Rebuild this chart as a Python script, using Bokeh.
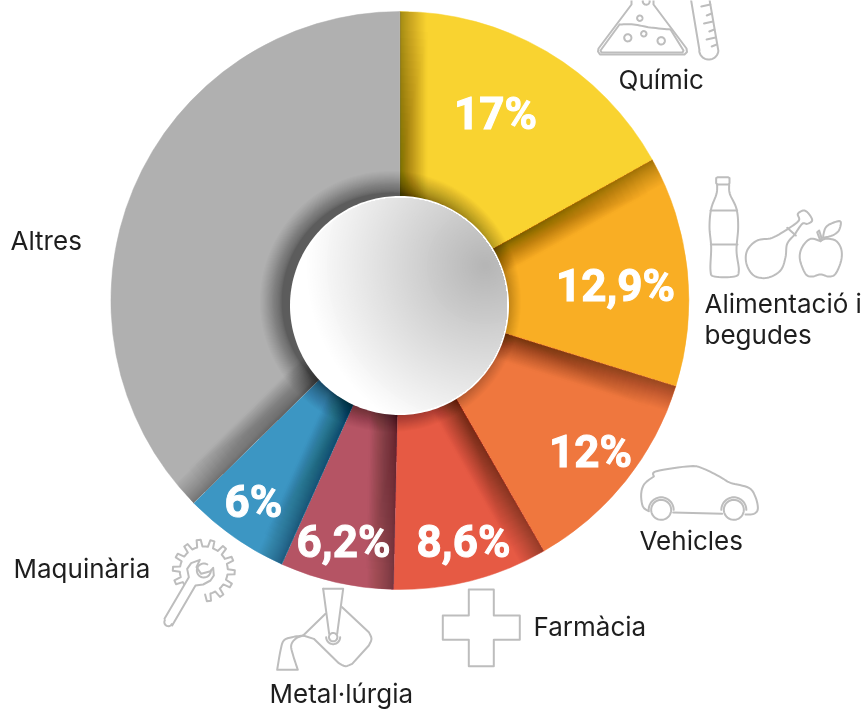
import numpy as np
from bokeh.plotting import figure
from bokeh.models import Range1d
from bokeh.core.properties import value
from bokeh.embed import file_html
from bokeh.resources import INLINE

# ---- data (clockwise from 12 o'clock); shares
sectors = ["Químic", "Alimentació i begudes", "Vehicles", "Farmàcia", "Metal·lúrgia", "Maquinària", "Altres"]
shares = [16.9, 12.9, 11.9, 8.65, 6.35, 5.95, 37.35]
pct_labels = ["17%", "12,9%", "12%", "8,6%", "6,2%", "6%", ""]
colors = ["#F9D330", "#F9AE24", "#EF773E", "#E65A44", "#B55464", "#3C96C3", "#B0B0B0"]

W, H = 863, 709
CX, CY, R = 399.4, 300, 289
HX, HY, HR = 399, 305, 107.5
ICON = "#BDBDBD"
TXT = "#1E1E1E"
FONT = "Inter"


def Y(y):
    return H - np.asarray(y, dtype=float)


p = figure(width=W, height=H, x_range=Range1d(0, W), y_range=Range1d(0, H),
           output_backend="svg", toolbar_location=None, min_border=0)
p.axis.visible = False
p.grid.visible = False
p.outline_line_color = None
p.background_fill_color = "#FFFFFF"
p.styles = {"position": "fixed", "left": "0px", "top": "0px"}

# ---- slices
cum = np.concatenate([[0], np.cumsum(shares)]) / 100 * 2 * np.pi
starts = np.pi / 2 - cum[:-1]
ends = np.pi / 2 - cum[1:]
p.wedge(x=CX, y=Y(CY), radius=R, start_angle=starts, end_angle=ends, direction="clock",
        fill_color=colors, line_color=colors, line_width=0.5)


# ---- soft shadows cast on each slice's clockwise-start edge
def strip(a_cw, d, rmax, rmin=95):
    """Region within perpendicular distance d of the radial edge at clockwise angle a_cw."""
    u = np.array([np.sin(a_cw), -np.cos(a_cw)])     # outward, screen coords
    n = np.array([np.cos(a_cw), np.sin(a_cw)])      # clockwise normal
    phi = np.arcsin(d / rmax)
    arc = np.linspace(0, phi, 24)
    pts = [np.array([CX, CY]) + rmin * u]
    for t in arc:
        a = a_cw + t
        pts.append(np.array([CX + rmax * np.sin(a), CY - rmax * np.cos(a)]))
    pts.append(np.array([CX, CY]) + rmin * u + d * n)
    pts = np.array(pts)
    return pts[:, 0].tolist(), Y(pts[:, 1]).tolist()


sx, sy, sa = [], [], []
for i, a in enumerate(cum[:-1]):
    for k in range(1, 31):
        x, y = strip(a, 0.5 + 26 * (k / 30) ** 1.3, R)
        sx.append(x); sy.append(y); sa.append(0.012)
    for k in range(1, 21):
        x, y = strip(a, 0.5 + 28 * (k / 20) ** 1.3, 120 + 150 * k / 20)
        sx.append(x); sy.append(y); sa.append(0.009)
# shadow of the centre disc
n_hole = 34
for k in range(n_hole, 0, -1):
    t = np.linspace(0, 2 * np.pi, 160)
    r = HR + 1 + 22 * (k / n_hole) ** 1.6
    sx.append((HX - 9 + r * np.cos(t)).tolist())
    sy.append(Y(HY - 4 + r * np.sin(t)).tolist())
    sa.append(0.017)
p.patches(xs=sx, ys=sy, fill_color="#000000", fill_alpha=sa, line_color=None)

# ---- centre disc: white rim and off-centre grey gradient
t = np.linspace(0, 2 * np.pi, 240)
p.patch(HX + (HR + 2) * np.cos(t), Y(HY + (HR + 2) * np.sin(t)), fill_color="#FFFFFF", line_color=None)
GX, GY = 485, 265
gx, gy, gc = [], [], []
for rad in np.arange(196, 2, -2.5):
    v = int(min(255, 181 + 0.41 * rad))
    dx, dy = np.cos(t), np.sin(t)
    ox, oy = GX - HX, GY - HY
    b = ox * dx + oy * dy
    c = ox ** 2 + oy ** 2 - HR ** 2
    rr = np.minimum(rad, -b + np.sqrt(b ** 2 - c))
    gx.append((GX + rr * dx).tolist())
    gy.append(Y(GY + rr * dy).tolist())
    gc.append("#%02x%02x%02x" % (v, v, v))
p.patches(xs=gx, ys=gy, fill_color=gc, line_color=None)


# ---- icons
def circ(x, y, r, a0=0, a1=360, n=40):
    a = np.radians(np.linspace(a0, a1, n))
    return list(zip(x + r * np.cos(a), y + r * np.sin(a)))


def smooth(pts, n=8):
    """Catmull-Rom through the given outline points."""
    P = np.array(pts, dtype=float)
    P = np.vstack([P[0], P, P[-1]])
    out = []
    for i in range(1, len(P) - 2):
        for s in np.linspace(0, 1, n, endpoint=False):
            out.append(0.5 * ((2 * P[i]) + (-P[i - 1] + P[i + 1]) * s
                              + (2 * P[i - 1] - 5 * P[i] + 4 * P[i + 1] - P[i + 2]) * s ** 2
                              + (-P[i - 1] + 3 * P[i] - 3 * P[i + 1] + P[i + 2]) * s ** 3))
    out.append(P[-2])
    return [tuple(q) for q in out]


def z(origin, pts):
    return [(origin[0] + a / 3, origin[1] + b / 3) for a, b in pts]


icons = []
# flask
icons.append([(631, -1), (631, 4), (598, 48), (597.5, 51), (599.5, 54), (684, 54), (686.5, 51.5), (686, 48), (653, 4), (653, -1)])
icons.append(smooth([(619, 24), (633, 24), (650, 27), (670, 29)]) + [(683, 50), (682, 52), (601, 52), (600, 50), (619, 24)])
for c in [(639.3, 17.7, 2.7), (627.3, 37.3, 3.6), (643.3, 33.3, 2.7), (660.7, 40.3, 3.7), (645.7, 0.7, 3.5)]:
    icons.append(circ(*c))
# test tube
icons.append([(690.5, -1), (699, 50)] + circ(708.3, 49.5, 9.6, 175, 5, 20)[0:] + [(709, -1)])
for y0, ln in [(5, 9), (14, 5), (22, 9), (30, 5), (38, 9), (45, 5)]:
    xr = 709.5 + (717.5 - 709.5) * y0 / 50
    icons.append([(xr - 0.5, y0 - 1), (xr - 0.5 - ln, y0 + 1)])
# bottle
o = (590, 0)
icons.append(z(o, [(380, 552), (377, 548), (377, 533), (382, 530), (412, 530), (417, 533), (417, 548), (414, 552), (380, 552)]))
icons.append(smooth(z(o, [(380, 552), (378, 580), (362, 625), (357, 680), (362, 740), (360, 810), (372, 828), (432, 828), (445, 810), (438, 750), (443, 680), (438, 625), (418, 580), (416, 552)])))
icons.append(z(o, [(360, 630), (440, 630)]))
icons.append(z(o, [(361, 732), (441, 732)]))
# chicken leg
icons.append(smooth(z(o, [(593, 685), (545, 712), (500, 720), (470, 750), (468, 790), (490, 825), (530, 832), (570, 810), (585, 770), (590, 730), (612, 703)])))
icons.append(smooth(z(o, [(593, 685), (625, 660), (622, 640), (640, 630), (655, 640), (665, 660), (650, 670), (635, 670), (612, 703)])))
icons.append(z(o, [(590, 682), (616, 705)]))
# apple
icons.append(smooth(z(o, [(690, 722), (660, 715), (635, 740), (628, 775), (645, 820), (665, 828), (690, 822), (715, 828), (735, 820), (752, 780), (752, 745), (735, 720), (705, 715), (690, 722)])))
icons.append(z(o, [(690, 722), (680, 695), (686, 690), (695, 718)]))
icons.append(smooth(z(o, [(697, 712), (705, 682), (725, 668), (750, 663), (745, 690), (725, 705), (697, 712)])))
# car
o = (620, 450)
icons.append(smooth(z(o, [(85, 182), (67, 168), (62, 130), (72, 100), (100, 78)]), 4) + smooth(z(o, [(100, 78), (108, 62), (210, 47), (250, 55), (300, 80), (330, 97), (385, 112), (405, 140), (412, 175), (400, 190), (375, 192)])))
icons.append(z(o, [(158, 186), (305, 190)]))
for cx0 in (122, 340):
    icons.append(circ(620 + cx0 / 3, 450 + 178 / 3, 10, 0, 360))
    icons.append(circ(620 + cx0 / 3, 450 + 178 / 3, 12.5, 180, 360, 24))
# cross
xa, xb, xc, xd = 442.3, 468.3, 493.3, 519.3
ya, yb, yc, yd = 589, 615, 639.3, 665.7
icons.append([(xb, ya), (xc, ya), (xc, yb), (xd, yb), (xd, yc), (xc, yc), (xc, yd), (xb, yd), (xb, yc), (xa, yc), (xa, yb), (xb, yb), (xb, ya)])
# metal ladle
o = (270, 580)
icons.append(z(o, [(158, 25), (218, 25), (200, 160)]))
icons.append(z(o, [(158, 25), (176, 160)]))
icons.append(circ(270 + 188 / 3, 580 + 170 / 3, 4.2))
icons.append(circ(270 + 188 / 3, 580 + 170 / 3, 7, 0, 180, 16))
icons.append(z(o, [(165, 100), (98, 165)]))
icons.append(z(o, [(215, 80), (295, 155)]) + smooth(z(o, [(295, 155), (303, 175), (295, 195)]), 4) + z(o, [(245, 250)]) + smooth(z(o, [(245, 250), (225, 257), (205, 248)]), 4) + z(o, [(130, 175), (98, 165)]))
icons.append(smooth(z(o, [(98, 165), (65, 170), (40, 180), (30, 210), (20, 268)])) + z(o, [(82, 268)]) + smooth(z(o, [(82, 268), (68, 225), (62, 195), (75, 175), (98, 165)])))
# gear and spanner
GCX, GCY = 203.3, 570
gear, teeth, pitch = [], 14, 360 / 14
for j in range(1, 13):
    base = 124 + 22 + (j - 1) * pitch
    for da, rr in [(0.0, 24), (0.2, 24), (0.3, 31), (0.6, 31), (0.7, 24)]:
        a = np.radians(base + da * pitch)
        gear.append((GCX + rr * np.cos(a), GCY + rr * np.sin(a)))
icons.append(gear)
o = (160, 530)
icons.append(z(o, [(12, 265), (85, 140), (80, 115), (92, 98), (118, 88), (108, 110), (122, 130), (150, 122), (158, 112), (160, 135), (150, 150), (128, 162), (105, 165), (35, 285)]) )
icons.append(circ(160 + 23.5 / 3, 530 + 275 / 3, 4.0, 30, 210, 14))
icons.append(circ(160 + 130 / 3, 530 + 120 / 3, 7, 0, 300, 24))

p.multi_line(xs=[[q[0] for q in i] for i in icons], ys=[Y([q[1] for q in i]).tolist() for i in icons],
             line_color=ICON, line_width=2, line_join="round", line_cap="round")

# ---- percentage labels
pct_x = [495, 615, 590, 463, 343, 253]
pct_y = [113, 285, 451, 541, 541, 501]
for lab, x, y in zip(pct_labels, pct_x, pct_y):
    p.text(x=[x], y=[Y(y)], text=[lab], text_align="center", text_baseline="middle", text_color="#FFFFFF",
           text_outline_color="#FFFFFF",
           text_font=value("Roboto"), text_font_style="bold", text_font_size="44px")

# ---- sector labels
labs = [("Químic", 618, 79), ("Alimentació i", 704, 303), ("begudes", 704, 334), ("Vehicles", 639, 540),
        ("Farmàcia", 533, 626), ("Metal·lúrgia", 269, 693), ("Maquinària", 13, 568), ("Altres", 10, 240)]
for lab, x, y in labs:
    p.text(x=[x], y=[Y(y)], text=[lab], text_align="left", text_baseline="middle", text_color=TXT,
           text_font=value(FONT), text_font_size="26px")

open("out.html", "w").write(file_html(p, INLINE))
